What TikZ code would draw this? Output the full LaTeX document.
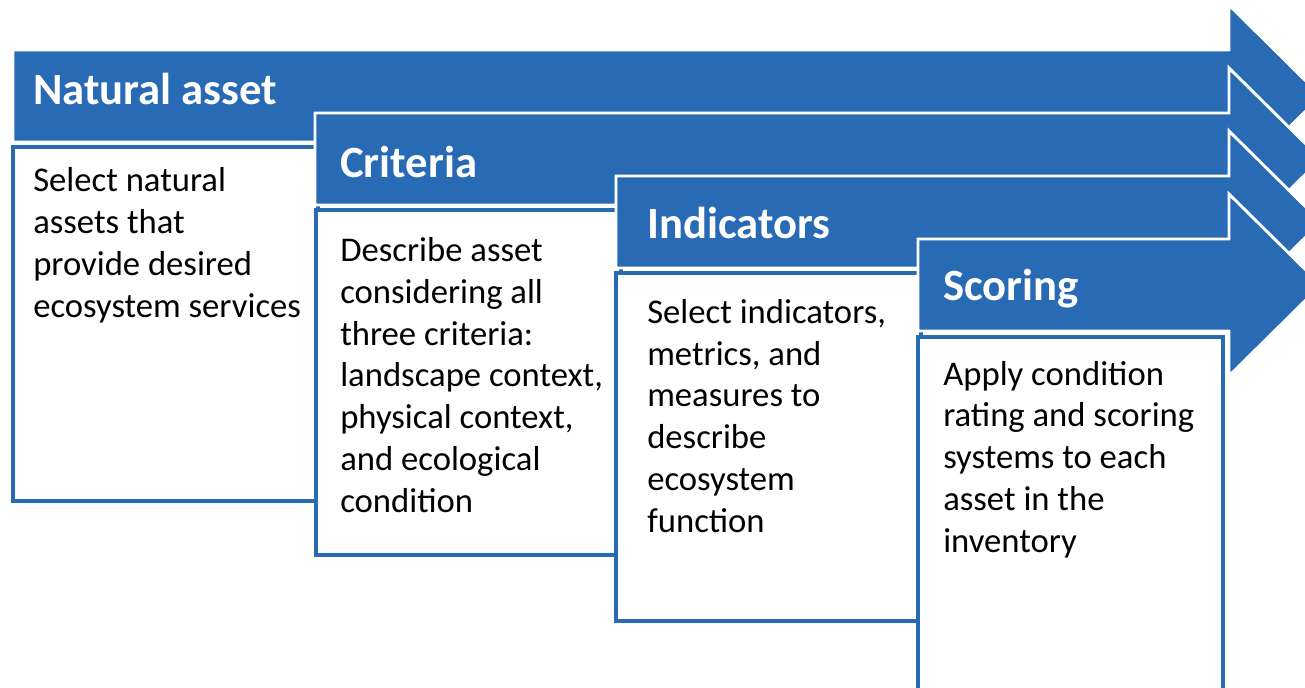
\documentclass[tikz,border=0pt]{standalone}
\usepackage{fontspec}
\setmainfont{Carlito}
\definecolor{arrowblue}{RGB}{40,106,180}
\tikzset{
  arrowshape/.style={fill=arrowblue, draw=white, line width=2.2pt, line join=miter},
  boxshape/.style={fill=white, draw=arrowblue, line width=2.4pt},
  headtext/.style={text=white, font=\bfseries\fontsize{33.5}{40}\selectfont, anchor=base west, inner sep=0pt},
  bodytext/.style={text=black, font=\fontsize{26}{31.3}\selectfont, align=left, anchor=base west, inner sep=0pt},
}
\begin{document}
\begin{tikzpicture}[x=0.75pt,y=-0.75pt]
\useasboundingbox (0,0) rectangle (1305,688);
\clip (0,0) rectangle (1305,688);
% step 1
\path[arrowshape] (13,50) -- (1229,50) -- (1229,5) -- (1321,96) -- (1229,187) -- (1229,142) -- (13,142) -- cycle;
\path[boxshape] (13,147) rectangle (318,501);
\node[headtext] (h1) at (33,105) {Natural asset};
\node[bodytext] (b1) at (33,317) {Select natural\\assets that\\provide desired\\ecosystem services};
% step 2
\path[arrowshape] (315,113) -- (1229,113) -- (1229,68) -- (1321,159) -- (1229,250) -- (1229,205) -- (315,205) -- cycle;
\path[boxshape] (316,210) rectangle (621,555);
\node[headtext] (h2) at (340,177) {Criteria};
\node[bodytext] (b2) at (340,512) {Describe asset\\considering all\\three criteria:\\landscape context,\\physical context,\\and ecological\\condition};
% step 3
\path[arrowshape] (616,176) -- (1229,176) -- (1229,131) -- (1321,222) -- (1229,313) -- (1229,268) -- (616,268) -- cycle;
\path[boxshape] (616,273) rectangle (921,621);
\node[headtext] (h3) at (647,238) {Indicators};
\node[bodytext] (b3) at (647,532) {Select indicators,\\metrics, and\\measures to\\describe\\ecosystem\\function};
% step 4
\path[arrowshape] (918,239) -- (1229,239) -- (1229,194) -- (1321,285) -- (1229,376) -- (1229,331) -- (918,331) -- cycle;
\path[boxshape] (918,337) rectangle (1223,700);
\node[headtext] (h4) at (943,300) {Scoring};
\node[bodytext] (b4) at (943,552) {Apply condition\\rating and scoring\\systems to each\\asset in the\\inventory};
\end{tikzpicture}
\end{document}
